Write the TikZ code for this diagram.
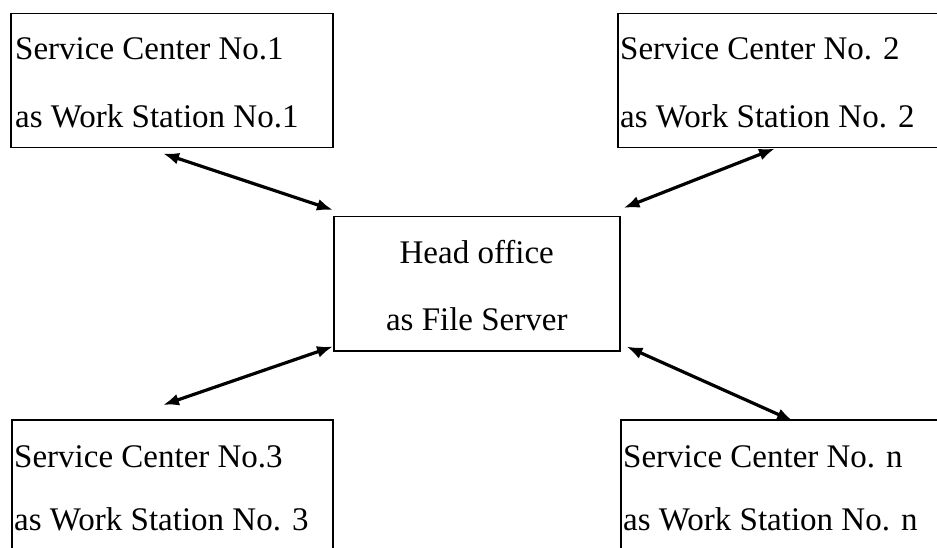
\documentclass[tikz,border=0pt]{standalone}
\usepackage{fontspec}
\setmainfont{Liberation Serif}
\usetikzlibrary{arrows.meta,calc}

\begin{document}
\begin{tikzpicture}[x=1pt,y=-1pt,
    box/.style={draw, line width=1.5pt, minimum height=134pt, inner sep=0pt, anchor=north west},
    txt/.style={inner sep=0pt, anchor=base west, font=\fontsize{33}{38}\selectfont},
    link/.style={line width=3.2pt, {Latex[length=16pt,width=12pt]}-{Latex[length=16pt,width=12pt]}}]
    \useasboundingbox (0,0) rectangle (937,548);
    \clip (0,0) rectangle (937,548);

    % boxes (the right and bottom ones run off the page)
    \node[box, minimum width=322pt] (c1) at (10,13) {};
    \node[box, minimum width=400pt] (c2) at (617,13) {};
    \node[box, minimum width=286pt] (hq) at (333,216) {};
    \node[box, minimum width=321pt, minimum height=200pt] (c3) at (11,419) {};
    \node[box, minimum width=400pt, minimum height=200pt] (cn) at (620,419) {};

    % texts
    \node[txt] (c1a) at ($(c1.north west)+(5,47)$) {Service Center No.1};
    \node[txt] (c1b) at ($(c1.north west)+(5,115)$) {as Work Station No.1};
    \node[txt] (c2a) at ($(c2.north west)+(3,47)$) {Service Center No. 2};
    \node[txt] (c2b) at ($(c2.north west)+(3,115)$) {as Work Station No. 2};
    \node[txt, anchor=base] (hqa) at ($(hq.north)+(0,47)$) {Head office};
    \node[txt, anchor=base] (hqb) at ($(hq.north)+(0,114)$) {as File Server};
    \node[txt] (c3a) at ($(c3.north west)+(3,48)$) {Service Center No.3};
    \node[txt] (c3b) at ($(c3.north west)+(3,111)$) {as Work Station No. 3};
    \node[txt] (cna) at ($(cn.north west)+(3,48)$) {Service Center No. n};
    \node[txt] (cnb) at ($(cn.north west)+(3,111)$) {as Work Station No. n};

    % links to the head office
    \coordinate (e1) at ($(c1.south west)+(153,5)$);
    \coordinate (e2) at ($(c2.south west)+(158,0)$);
    \coordinate (e3) at ($(c3.north west)+(152,-14)$);
    \coordinate (e4) at ($(cn.north west)+(173,2)$);
    \draw[link] (e1) -- ($(hq.north west)+(0,-6)$);
    \draw[link] (e2) -- ($(hq.north east)+(3,-8)$);
    \draw[link] ($(hq.south west)+(0,-5)$) -- (e3);
    \draw[link] ($(hq.south east)+(6,-5)$) -- (e4);
\end{tikzpicture}
\end{document}
